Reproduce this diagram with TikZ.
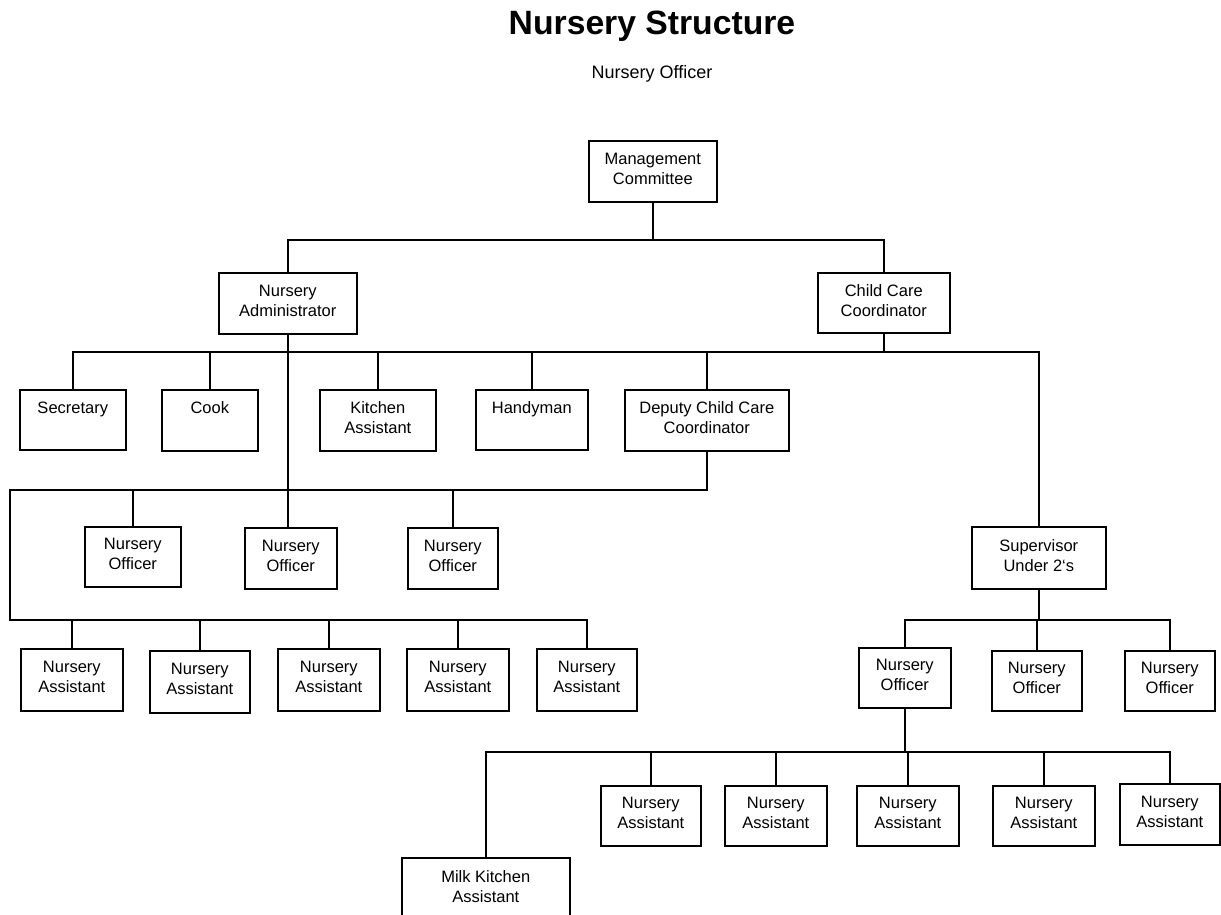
\documentclass[tikz,border=0pt]{standalone}
\usepackage{fontspec}
\setmainfont{Liberation Sans}
\newcommand{\dnrule}{\rule[-5pt]{0pt}{5pt}}
\begin{document}
\begin{tikzpicture}[x=1pt,y=-1pt,
  bx/.style 2 args={draw, line width=1.6pt, minimum width=#1, minimum height=#2,
    anchor=north west, inner sep=0pt, align=center,
    font=\fontsize{16.5}{20}\selectfont},
  ln/.style={line width=1.6pt}]
\useasboundingbox (0,0) rectangle (1221,915);
\clip (0,0) rectangle (1221,915);
\node (title) at (652,26) {\bfseries\fontsize{33.7}{38}\selectfont Nursery Structure};
\node (sub) at (652,74) {\fontsize{18}{20}\selectfont Nursery Officer};

\node[bx={128}{61}] (mc) at (588,140) {Management\\Committee\dnrule};
\node[bx={138}{61}] (na) at (218,272) {Nursery\\Administrator\dnrule};
\node[bx={132}{60}] (ccc) at (817,272) {Child Care\\Coordinator\dnrule};
\node[bx={106}{60}] (sec) at (19,389) {Secretary\\~\dnrule};
\node[bx={96}{61}] (cook) at (161,389) {Cook\\~\dnrule};
\node[bx={116}{61}] (ka) at (319,389) {Kitchen\\Assistant\dnrule};
\node[bx={112}{60}] (hm) at (475,389) {Handyman\\~\dnrule};
\node[bx={164}{61}] (dccc) at (624,389) {Deputy Child Care\\Coordinator\dnrule};
\node[bx={96}{60}] (no1) at (84,526) {Nursery\\Officer\dnrule};
\node[bx={92}{61}] (no2) at (244,527) {Nursery\\Officer\dnrule};
\node[bx={90}{61}] (no3) at (407,527) {Nursery\\Officer\dnrule};
\node[bx={102}{62}] (na1) at (20,648) {Nursery\\Assistant\dnrule};
\node[bx={100}{62}] (na2) at (149,650) {Nursery\\Assistant\dnrule};
\node[bx={102}{62}] (na3) at (277,648) {Nursery\\Assistant\dnrule};
\node[bx={102}{62}] (na4) at (406,648) {Nursery\\Assistant\dnrule};
\node[bx={100}{62}] (na5) at (536,648) {Nursery\\Assistant\dnrule};
\node[bx={134}{62}] (sup) at (971,526) {Supervisor\\Under 2\symbol{96}s\dnrule};
\node[bx={92}{60}] (so1) at (858,647) {Nursery\\Officer\dnrule};
\node[bx={90}{60}] (so2) at (991,650) {Nursery\\Officer\dnrule};
\node[bx={90}{60}] (so3) at (1124,650) {Nursery\\Officer\dnrule};
\node[bx={100}{60}] (sa1) at (600,785) {Nursery\\Assistant\dnrule};
\node[bx={102}{60}] (sa2) at (724,785) {Nursery\\Assistant\dnrule};
\node[bx={102}{60}] (sa3) at (856,785) {Nursery\\Assistant\dnrule};
\node[bx={102}{60}] (sa4) at (992,785) {Nursery\\Assistant\dnrule};
\node[bx={100}{61}] (sa5) at (1119,783) {Nursery\\Assistant\dnrule};
\node[bx={168}{62}] (mka) at (401,857) {Milk Kitchen\\Assistant\dnrule};

% level 1
\coordinate (b1) at (652,240);
\draw[ln] (mc.south) -- (mc.south |- b1);
\draw[ln] (na.north) |- (b1) -| (ccc.north);
% level 2 bus
\coordinate (b2) at (883,352);
\draw[ln] (ccc.south) -- (ccc.south |- b2);
\draw[ln] (sec.north) |- (b2) -| (sup.north);
\foreach \n in {cook,ka,hm,dccc} \draw[ln] (\n.north) -- (\n.north |- b2);
\draw[ln] (na.south) -- (na.south |- no2.north);
% deputy branch
\coordinate (b3) at (706,490);
\coordinate (c3) at (10,620);
\draw[ln] (dccc.south) -- (dccc.south |- b3) -| (c3) -| (na5.north);
\foreach \n in {no1,no3} \draw[ln] (\n.north) -- (\n.north |- b3);
\foreach \n in {na1,na2,na3,na4} \draw[ln] (\n.north) -- (\n.north |- c3);
% supervisor branch
\coordinate (b4) at (1038,620);
\draw[ln] (sup.south) -- (sup.south |- b4);
\draw[ln] (so2.north) -- (so2.north |- b4);
\draw[ln] (so1.north) |- (b4) -| (so3.north);
\coordinate (b5) at (904,752);
\draw[ln] (so1.south) -- (so1.south |- b5);
\draw[ln] (mka.north) |- (b5) -| (sa5.north);
\foreach \n in {sa1,sa2,sa3,sa4} \draw[ln] (\n.north) -- (\n.north |- b5);
\end{tikzpicture}
\end{document}
